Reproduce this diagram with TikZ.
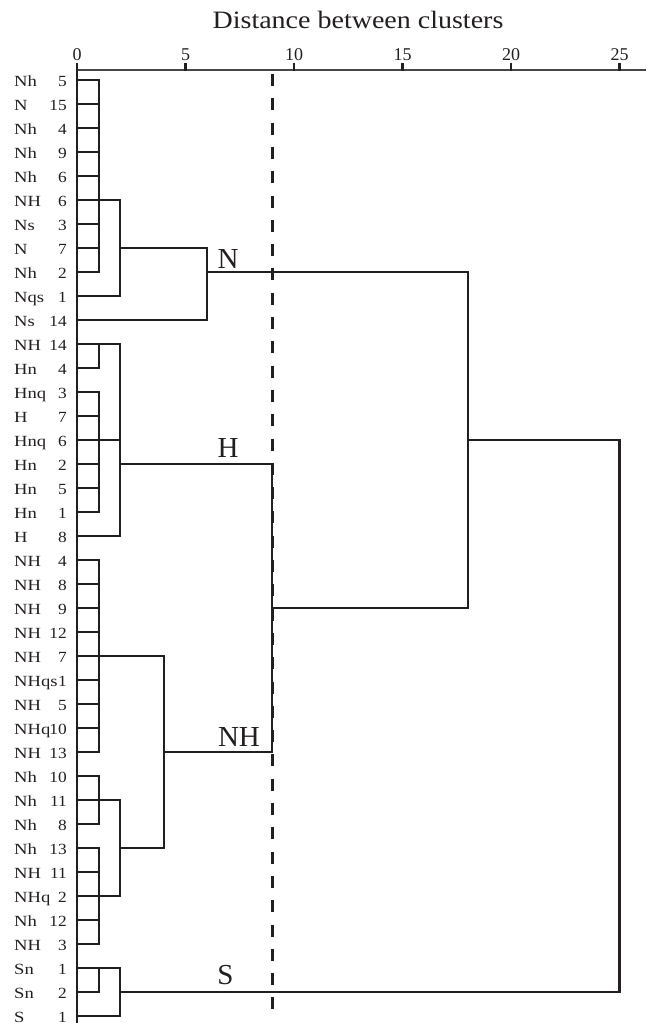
\documentclass[tikz,border=0pt]{standalone}
\usepackage{fontspec}
\setmainfont{Liberation Serif}
\newfontfamily\wideserif[FakeStretch=1.12]{Liberation Serif}
\newfontfamily\leafserif[FakeStretch=1.2]{Liberation Serif}
\definecolor{ink}{HTML}{231F20}
\tikzset{
  leafline/.style={draw=ink, line width=1.7pt},
  joinline/.style={draw=ink, line width=2.1pt, line cap=rect},
  axisline/.style={draw=black!72, line width=2pt},
  tickline/.style={draw=ink, line width=2.2pt},
  cutline/.style={draw=ink, line width=2.7pt, dash pattern=on 12pt off 12.3pt},
  leafname/.style={anchor=base west, inner sep=0pt, text=ink, font=\leafserif\fontsize{15.5}{15.5}\selectfont},
  leafnum/.style={anchor=base east, inner sep=0pt, text=ink, font=\wideserif\fontsize{15.5}{15.5}\selectfont},
  ticklabel/.style={anchor=base, inner sep=0pt, text=ink, font=\fontsize{18}{18}\selectfont},
  clusterlabel/.style={anchor=base, inner sep=0pt, text=ink, font=\fontsize{29}{29}\selectfont},
  titlelabel/.style={anchor=base, inner sep=0pt, text=ink, font=\wideserif\fontsize{25}{25}\selectfont}
}
\begin{document}
\begin{tikzpicture}
\useasboundingbox (0pt,0pt) rectangle (646pt,-1023pt);
\node[titlelabel] (title) at (358pt,-28pt) {Distance between clusters};
% leaf labels
\foreach \nm/\nu [count=\i] in {Nh/5,N/15,Nh/4,Nh/9,Nh/6,NH/6,Ns/3,N/7,Nh/2,Nqs/1,Ns/14,NH/14,Hn/4,Hnq/3,H/7,Hnq/6,Hn/2,Hn/5,Hn/1,H/8,NH/4,NH/8,NH/9,NH/12,NH/7,NHqs/1,NH/5,NHq/10,NH/13,Nh/10,Nh/11,Nh/8,Nh/13,NH/11,NHq/2,Nh/12,NH/3,Sn/1,Sn/2,S/1}{
  \pgfmathsetmacro{\yb}{-(80+24*(\i-1)+6)}
  \node[leafname] (n\i) at (14pt,\yb pt) {\nm};
  \node[leafnum] (m\i) at (67pt,\yb pt) {\nu};
}
\begin{scope}[xshift=77pt, yshift=-56pt, x=21.7pt, y=-24pt]
  % axis
  \draw[axisline] (0,0.583) -- (26.22,0.583);
  \foreach \d in {0,5,10,15,20,25}{
    \draw[tickline] (\d,0.29) -- (\d,0.62);
    \node[ticklabel] (t\d) at (\d,0.196) {\d};
  }
  % leaf lines
  \foreach \j [count=\i] in {1,1,1,1,1,1,1,1,1,2,6,1,1,1,1,1,1,1,1,2,1,1,1,1,1,1,1,1,1,1,1,1,1,1,1,1,1,1,1,2}{
    \coordinate (e\i) at (0,\i);
    \draw[leafline] (e\i) -- (\j,\i);
  }
  % first-level joins at distance 1
  \draw[joinline] (1,1) -- (1,9);
  \draw[joinline] (1,12) -- (1,13);
  \draw[joinline] (1,14) -- (1,19);
  \draw[joinline] (1,21) -- (1,29);
  \draw[joinline] (1,30) -- (1,32);
  \draw[joinline] (1,33) -- (1,37);
  \draw[joinline] (1,38) -- (1,39);
  % distance 2
  \draw[joinline] (1,6) -- (2,6);
  \draw[joinline] (1,12) -- (2,12);
  \draw[joinline] (1,16) -- (2,16);
  \draw[joinline] (1,31) -- (2,31);
  \draw[joinline] (1,35) -- (2,35);
  \draw[joinline] (1,38) -- (2,38);
  \draw[joinline] (2,6) -- (2,10);
  \draw[joinline] (2,12) -- (2,20);
  \draw[joinline] (2,31) -- (2,35);
  \draw[joinline] (2,38) -- (2,40);
  % N cluster
  \draw[joinline] (2,8) -- (6,8);
  \draw[joinline] (6,8) -- (6,11);
  \coordinate (cN) at (6,9);
  \coordinate (cTop) at (18,9);
  \draw[joinline] (cN) -- (cTop);
  % H cluster
  \coordinate (cH) at (2,17);
  \coordinate (cHr) at (9,17);
  \draw[joinline] (cH) -- (cHr);
  % NH cluster
  \draw[joinline] (1,25) -- (4,25);
  \draw[joinline] (2,33) -- (4,33);
  \draw[joinline] (4,25) -- (4,33);
  \coordinate (cNH) at (4,29);
  \coordinate (cNHr) at (9,29);
  \draw[joinline] (cNH) -- (cNHr);
  \draw[joinline] (cHr) -- (cNHr);
  \coordinate (cHNH) at (9,23);
  \coordinate (cMid) at (18,23);
  \draw[joinline] (cHNH) -- (cMid);
  \draw[joinline] (cTop) -- (cMid);
  % root
  \coordinate (cR) at (18,16);
  \coordinate (cRr) at (25,16);
  \draw[joinline] (cR) -- (cRr);
  \coordinate (cS) at (2,39);
  \coordinate (cSr) at (25,39);
  \draw[joinline] (cS) -- (cSr);
  \draw[joinline] (cRr) -- (cSr);
  % left baseline
  \draw[draw=ink, line width=2.7pt] (0,0.583) -- (0,40.4);
  % cut line
  \draw[cutline] (9,0.75) -- (9,39.75);
\end{scope}
% cluster labels
\node[clusterlabel] (labN) at (228pt,-268pt) {N};
\node[clusterlabel] (labH) at (228pt,-457pt) {H};
\node[clusterlabel] (labNH) at (239pt,-746pt) {NH};
\node[clusterlabel] (labS) at (225.5pt,-984pt) {S};
\end{tikzpicture}
\end{document}
